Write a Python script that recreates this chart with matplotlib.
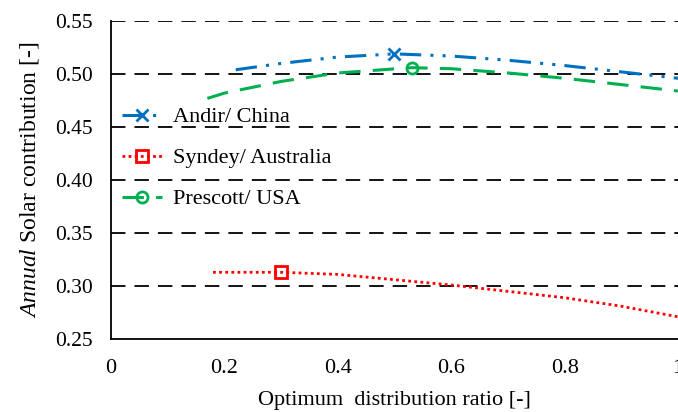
import numpy as np
import matplotlib
matplotlib.use('Agg')
import matplotlib.pyplot as plt

plt.rcParams['font.family'] = 'Liberation Serif'
plt.rcParams['mathtext.fontset'] = 'custom'
plt.rcParams['mathtext.rm'] = 'Liberation Serif'
plt.rcParams['mathtext.it'] = 'Liberation Serif:italic'

# data
andir_x = [0.22, 0.3, 0.4, 0.5, 0.6, 0.7, 0.8, 0.9, 1.0]
andir_y = [0.504, 0.510, 0.516, 0.519, 0.517, 0.513, 0.508, 0.502, 0.496]

sydney_x = [0.18, 0.3, 0.4, 0.5, 0.6, 0.7, 0.8, 0.9, 1.0]
sydney_y = [0.313, 0.313, 0.311, 0.306, 0.301, 0.295, 0.289, 0.281, 0.271]

prescott_x = [0.17, 0.2, 0.3, 0.4, 0.53, 0.6, 0.7, 0.8, 0.9, 1.0]
prescott_y = [0.477, 0.482, 0.493, 0.501, 0.506, 0.505, 0.501, 0.496, 0.490, 0.484]

x_ticks = [0, 0.2, 0.4, 0.6, 0.8, 1]
x_tick_labels = ['0', '0.2', '0.4', '0.6', '0.8', '1']
y_ticks = [0.25, 0.30, 0.35, 0.40, 0.45, 0.50, 0.55]

fig = plt.figure(figsize=(6.78, 4.12), dpi=100)
ax = fig.add_axes([0.1637, 0.177, 0.8363, 0.772])

ax.plot(andir_x, andir_y, color='#0070C0', lw=2.2, dashes=[7, 3, 1, 3, 1, 3],
        marker='x', ms=9, mew=2, markevery=[3], label='Andir/ China')
ax.plot(sydney_x, sydney_y, color='#FF0000', lw=2, linestyle=(0, (1, 1.2)),
        marker='s', ms=8, mew=2, mfc='none', markevery=[1], label='Syndey/ Australia')
ax.plot(prescott_x, prescott_y, color='#00B050', lw=2.2, dashes=[7, 4],
        marker='o', ms=8, mew=2, mfc='none', markevery=[4], label='Prescott/ USA')

for y in y_ticks[1:]:
    ax.axhline(y, color='black', lw=1.3, dashes=[8, 5], zorder=0)

ax.set_xlim(0, 1)
ax.set_ylim(0.25, 0.55)
ax.set_xticks(x_ticks)
ax.set_xticklabels(x_tick_labels)
ax.set_yticks(y_ticks)
ax.set_yticklabels(['%.2f' % v for v in y_ticks])
ax.tick_params(axis='x', length=0, labelsize=16, pad=14)
ax.tick_params(axis='y', length=0, labelsize=15.5, pad=13)

ax.spines['top'].set_visible(False)
ax.spines['right'].set_visible(False)
ax.spines['left'].set_color('black')
ax.spines['bottom'].set_color('black')
ax.spines['left'].set_linewidth(1.3)
ax.spines['bottom'].set_linewidth(1.3)

ax.set_xlabel('Optimum  distribution ratio [-]', fontsize=16, labelpad=10)
ax.set_ylabel(r'$\it{Annual}$ Solar contribution [-]', fontsize=17, labelpad=10)

ax.legend(loc='upper left', bbox_to_anchor=(0.0, 0.765), frameon=False,
          fontsize=16, handlelength=1.8, handletextpad=0.5, labelspacing=0.92,
          borderaxespad=0.2, borderpad=0.3)

fig.savefig('out.png', dpi=100)
